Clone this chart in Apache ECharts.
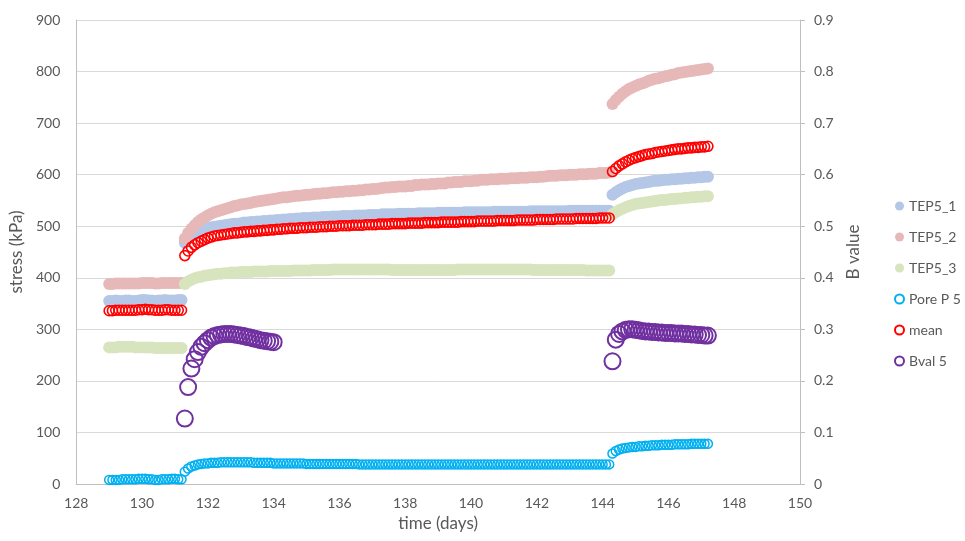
<!DOCTYPE html>
<html>
<head>
<meta charset="utf-8">
<script src="https://cdn.jsdelivr.net/npm/echarts@6/dist/echarts.min.js"></script>
<style>html,body{margin:0;padding:0;background:#fff;}#c{width:965px;height:541px;}</style>
</head>
<body>
<div id="c"></div>
<script>
// time (days) shared by the stress series
const days = [
129,129.1,129.2,129.3,129.4,129.5,129.6,129.7,129.8,129.9,130,130.1,130.2,130.3,130.4,130.5,130.6,130.7,130.8,130.9,131,131.1,131.2,
131.3,131.4,131.5,131.6,131.7,131.8,131.9,132,132.1,132.2,
132.3,132.4,132.5,132.6,132.7,132.8,132.9,133,133.1,133.2,
133.3,133.4,133.5,133.6,133.7,133.8,133.9,134,134.1,134.2,
134.3,134.4,134.5,134.6,134.7,134.8,134.9,135,135.1,135.2,
135.3,135.4,135.5,135.6,135.7,135.8,135.9,136,136.1,136.2,
136.3,136.4,136.5,136.6,136.7,136.8,136.9,137,137.1,137.2,
137.3,137.4,137.5,137.6,137.7,137.8,137.9,138,138.1,138.2,
138.3,138.4,138.5,138.6,138.7,138.8,138.9,139,139.1,139.2,
139.3,139.4,139.5,139.6,139.7,139.8,139.9,140,140.1,140.2,
140.3,140.4,140.5,140.6,140.7,140.8,140.9,141,141.1,141.2,
141.3,141.4,141.5,141.6,141.7,141.8,141.9,142,142.1,142.2,
142.3,142.4,142.5,142.6,142.7,142.8,142.9,143,143.1,143.2,
143.3,143.4,143.5,143.6,143.7,143.8,143.9,144,144.1,144.2,
144.3,144.4,144.5,144.6,144.7,144.8,144.9,145,145.1,145.2,
145.3,145.4,145.5,145.6,145.7,145.8,145.9,146,146.1,146.2,
146.3,146.4,146.5,146.6,146.7,146.8,146.9,147,147.1,147.2
];

const tep5_1 = [
355,355,356,355,355,356,356,355,355,356,357,357,356,356,355,356,356,357,356,356,356,357,357,
468,476,482,486,489,492,494,496,498,499,
500,501,502,503,504,505,505,506,507,507,
508,508,509,509,510,510,511,511,512,512,
513,513,514,514,515,515,516,516,516,517,
517,517,518,518,518,519,519,519,520,520,
520,520,521,521,521,521,522,522,522,522,
523,523,523,523,523,524,524,524,524,524,
524,525,525,525,525,525,525,526,526,526,
526,526,526,526,526,527,527,527,527,527,
527,527,527,527,528,528,528,528,528,528,
528,528,528,528,528,529,529,529,529,529,
529,529,529,529,529,529,529,530,530,530,
530,530,530,530,530,530,530,530,530,530,
561,566,570,573,576,578,580,582,583,584,
585,586,587,588,588,589,590,590,591,591,
592,592,593,593,594,594,595,595,596,596
];

const tep5_2 = [
388,388,389,389,389,389,389,389,389,389,390,390,390,390,389,389,390,390,390,390,390,390,390,
476,487,495,502,508,513,517,521,524,527,
529,531,533,535,537,539,540,542,543,544,
545,547,548,549,550,551,552,553,554,555,
556,556,557,558,559,559,560,561,561,562,
563,563,564,564,565,566,566,567,567,568,
568,569,569,570,570,571,571,572,572,573,
574,575,575,576,576,577,577,577,578,578,
580,580,581,581,581,582,582,583,583,583,
585,585,586,586,586,587,587,587,588,588,
590,590,590,591,591,591,592,592,592,593,
593,593,594,594,594,595,595,595,596,596,
597,598,598,598,599,599,599,600,600,600,
601,601,601,602,602,602,603,603,603,604,
737,745,751,757,762,766,769,772,775,777,
779,782,784,786,787,789,791,792,794,795,
797,798,799,800,801,802,803,804,805,806
];

const tep5_3 = [
265,265,265,266,266,266,266,266,265,265,265,265,265,265,264,264,264,264,264,264,264,264,264,
388,393,396,399,401,402,404,405,406,407,
408,408,409,409,410,410,410,411,411,411,
411,412,412,412,412,412,413,413,413,413,
413,413,413,414,414,414,414,414,414,415,
415,415,415,415,415,416,416,416,416,416,
416,416,416,416,416,416,416,416,416,416,
416,416,416,415,415,415,415,415,415,415,
415,415,415,415,415,415,415,415,415,415,
415,415,415,416,416,416,416,416,416,416,
416,416,416,416,416,416,416,416,416,416,
416,416,416,416,416,416,415,415,415,415,
415,415,415,415,415,415,415,415,415,415,
415,415,414,414,414,414,414,414,414,414,
523,527,531,534,537,539,541,543,544,545,
546,547,548,549,550,551,551,552,553,553,
554,554,555,555,556,556,557,557,558,558
];

const poreP5 = [
8,8,8,8,9,9,9,9,9,10,10,10,9,9,8,8,9,9,9,10,10,9,9,
24,30,34,36,38,39,40,40,41,41,
41,42,42,42,42,42,42,42,42,42,
42,41,41,41,41,41,41,40,40,40,
40,40,40,40,40,40,40,39,39,39,
39,39,39,39,39,39,39,39,39,39,
39,39,39,38,38,38,38,38,38,38,
38,38,38,38,38,38,38,38,38,38,
38,38,38,38,38,38,38,38,38,38,
38,38,38,38,38,38,38,38,38,38,
38,38,38,38,38,38,38,38,38,38,
38,38,38,38,38,38,38,38,38,38,
38,38,38,38,38,38,38,38,38,38,
38,38,38,38,38,38,38,38,38,38,
59,64,67,69,70,71,72,72,73,73,
74,74,75,75,75,76,76,76,76,77,
77,77,77,77,78,78,78,78,78,78
];

const mean = [
336,336,337,337,337,337,337,337,337,338,338,339,338,338,337,337,337,338,338,337,337,337,337,
443,452,459,464,468,471,474,477,479,481,
482,483,484,485,486,487,487,488,489,489,
490,490,491,491,492,492,493,493,494,494,
495,495,496,496,496,497,497,497,498,498,
498,499,499,499,500,500,500,501,501,501,
501,502,502,502,502,503,503,503,503,504,
504,504,504,505,505,505,505,505,506,506,
506,506,506,507,507,507,507,507,508,508,
508,508,508,508,509,509,509,509,509,510,
510,510,510,510,510,511,511,511,511,511,
511,512,512,512,512,512,512,513,513,513,
513,513,513,514,514,514,514,514,514,515,
515,515,515,515,515,515,516,516,516,516,
606,612,617,621,625,628,631,633,635,637,
639,640,641,643,644,645,646,647,648,649,
650,650,651,652,652,653,653,654,654,655
];

// B value (right axis)
const bvalDays = [
131.3,131.4,131.5,131.6,131.7,131.8,131.9,132,132.1,132.2,
132.3,132.4,132.5,132.6,132.7,132.8,132.9,133,133.1,133.2,
133.3,133.4,133.5,133.6,133.7,133.8,133.9,134,
144.3,144.4,144.5,144.6,144.7,144.8,144.9,145,145.1,145.2,
145.3,145.4,145.5,145.6,145.7,145.8,145.9,146,146.1,146.2,
146.3,146.4,146.5,146.6,146.7,146.8,146.9,147,147.1,147.2
];
const bval5 = [
0.127,0.188,0.224,0.242,0.256,0.266,0.273,0.279,0.284,0.287,
0.289,0.290,0.291,0.291,0.291,0.290,0.289,0.288,0.287,0.285,
0.284,0.282,0.281,0.279,0.278,0.277,0.276,0.275,
0.238,0.280,0.291,0.296,0.299,0.300,0.300,0.299,0.298,0.297,
0.296,0.296,0.295,0.295,0.294,0.294,0.293,0.293,0.293,0.292,
0.292,0.292,0.291,0.291,0.290,0.290,0.289,0.289,0.288,0.288
];

const xTicks = {min: 128, max: 150, interval: 2};
const leftTicks = {min: 0, max: 900, interval: 100};
const rightTicks = {min: 0, max: 0.9, interval: 0.1};

function pairs(xs, ys){ return xs.map((x,i)=>[x, ys[i]]); }

const FONT = 'Lato, "Liberation Sans", sans-serif';
const TXT = '#595959';

function filled(name, color, vals){
  return {name, type:'scatter', data:pairs(days, vals), symbol:'circle', symbolSize:12,
    itemStyle:{color:color, opacity:1}, emphasis:{disabled:true}};
}
function hollow(name, color, xs, vals, size, bw, yIdx){
  return {name, type:'scatter', data:pairs(xs, vals), symbol:'circle', symbolSize:size, yAxisIndex:yIdx||0,
    itemStyle:{color:'rgba(255,255,255,0)', borderColor:color, borderWidth:bw, opacity:1}, emphasis:{disabled:true}};
}

const chart = echarts.init(document.getElementById('c'), null, {renderer:'canvas'});
chart.setOption({
  animation:false,
  backgroundColor:'#fff',
  textStyle:{fontFamily:FONT},
  grid:{left:76, right:165, top:20, bottom:57, containLabel:false},
  legend:{
    orient:'vertical', left:889, top:194, itemWidth:9, itemHeight:9, itemGap:17,
    textStyle:{fontSize:14, color:TXT, fontFamily:FONT},
    data:['TEP5_1','TEP5_2','TEP5_3','Pore P 5','mean','Bval 5']
  },
  xAxis:{
    type:'value', min:xTicks.min, max:xTicks.max, interval:xTicks.interval,
    name:'time (days)', nameLocation:'middle', nameGap:29,
    nameTextStyle:{fontSize:17, color:TXT, fontFamily:FONT},
    axisLine:{show:true, onZero:false, lineStyle:{color:'#BFBFBF', width:1}},
    axisTick:{show:false},
    axisLabel:{fontSize:14, color:TXT, margin:12, fontFamily:FONT},
    splitLine:{show:false}
  },
  yAxis:[{
    type:'value', min:leftTicks.min, max:leftTicks.max, interval:leftTicks.interval,
    name:'stress (kPa)', nameLocation:'middle', nameGap:46, nameRotate:90,
    nameTextStyle:{fontSize:17, color:TXT, fontFamily:FONT},
    axisLine:{show:true, lineStyle:{color:'#BFBFBF', width:1}},
    axisTick:{show:false},
    axisLabel:{fontSize:14, color:TXT, margin:16, fontFamily:FONT},
    splitLine:{show:true, lineStyle:{color:'#D9D9D9', width:1}}
  },{
    type:'value', position:'right', min:rightTicks.min, max:rightTicks.max, interval:rightTicks.interval,
    name:'B value', nameLocation:'middle', nameGap:45, nameRotate:90,
    nameTextStyle:{fontSize:17, color:TXT, fontFamily:FONT},
    axisLine:{show:true, lineStyle:{color:'#BFBFBF', width:1}},
    axisTick:{show:true, inside:false, length:5, lineStyle:{color:'#BFBFBF'}},
    axisLabel:{fontSize:14, color:TXT, margin:14, fontFamily:FONT},
    splitLine:{show:false}
  }],
  series:[
    filled('TEP5_1', '#B4C7E7', tep5_1),
    filled('TEP5_2', '#E6B9B8', tep5_2),
    filled('TEP5_3', '#D7E4BD', tep5_3),
    hollow('Pore P 5', '#00B0F0', days, poreP5, 9, 1.5, 0),
    hollow('mean', '#FF0000', days, mean, 10, 1.6, 0),
    hollow('Bval 5', '#7030A0', bvalDays, bval5, 16, 2, 1)
  ]
});
</script>
</body>
</html>
